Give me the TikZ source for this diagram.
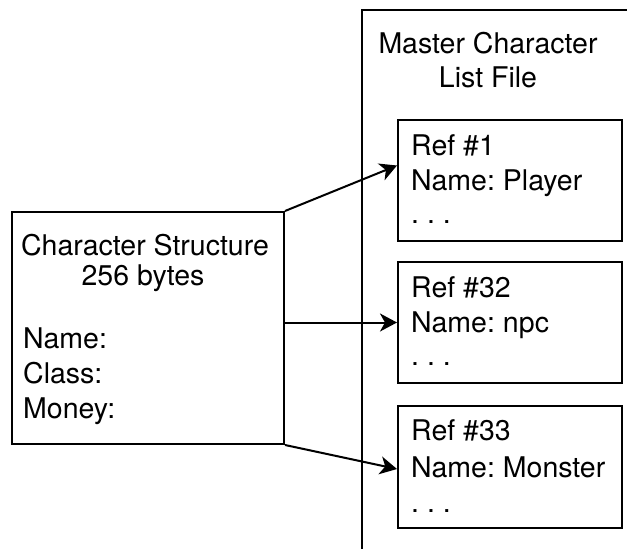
\documentclass[tikz,border=0pt]{standalone}
\usepackage{fontspec}
\setmainfont{TeX Gyre Heros}
\usetikzlibrary{arrows.meta,calc}
\begin{document}
\frenchspacing
\begin{tikzpicture}[x=1pt,y=-1pt,
  box/.style={draw,line width=2pt,inner sep=0pt,anchor=north west},
  txt/.style={anchor=base west,inner sep=0pt,font=\fontsize{28.5}{34}\selectfont},
  ctxt/.style={anchor=base,inner sep=0pt,font=\fontsize{28.5}{34}\selectfont},
  arr/.style={line width=2pt,-{Stealth[length=17pt,width=18pt,inset=5pt]}}]
\useasboundingbox (0,0) rectangle (627,549);
% master file outline (open right and bottom)
\coordinate (mb) at (362,549);
\coordinate (mt) at (362,10);
\coordinate (mr) at (627,10);
\draw[line width=2pt] (mb) -- (mt) -- (mr);
\node[ctxt] (m1) at (488,53) {Master Character};
\node[ctxt] (m2) at (488,87) {List File};
% character structure box
\node[box,minimum width=272pt,minimum height=232pt] (cs) at (11,211) {};
\node[ctxt] (cs1) at (145,255) {Character Structure};
\node[ctxt] (cs2) at (143,285) {256 bytes};
\node[txt] (cs3) at (23,348) {Name:};
\node[txt] (cs4) at (23,383) {Class:};
\node[txt] (cs5) at (23,418) {Money:};
% ref boxes
\node[box,minimum width=224pt,minimum height=121pt] (r1) at (397,119) {};
\node[txt] (r1a) at (411,155) {Ref \#1};
\node[txt] (r1b) at (411,190) {Name: Player};
\node[txt] (r1c) at (411,223) {. . .};
\node[box,minimum width=224pt,minimum height=121pt] (r2) at (397,261) {};
\node[txt] (r2a) at (411,297) {Ref \#32};
\node[txt] (r2b) at (411,332) {Name: npc};
\node[txt] (r2c) at (411,365) {. . .};
\node[box,minimum width=224pt,minimum height=122pt] (r3) at (397,405) {};
\node[txt] (r3a) at (411,440) {Ref \#33};
\node[txt] (r3b) at (411,477) {Name: Monster};
\node[txt] (r3c) at (411,512) {. . .};
% connectors
\coordinate (a2s) at (cs.east |- r2.west);
\draw[arr] (cs.north east) -- ($(r1.west)+(0,-15)$);
\draw[arr] (a2s) -- (r2.west);
\draw[arr] (cs.south east) -- ($(r3.west)+(0,2)$);
\end{tikzpicture}
\end{document}
